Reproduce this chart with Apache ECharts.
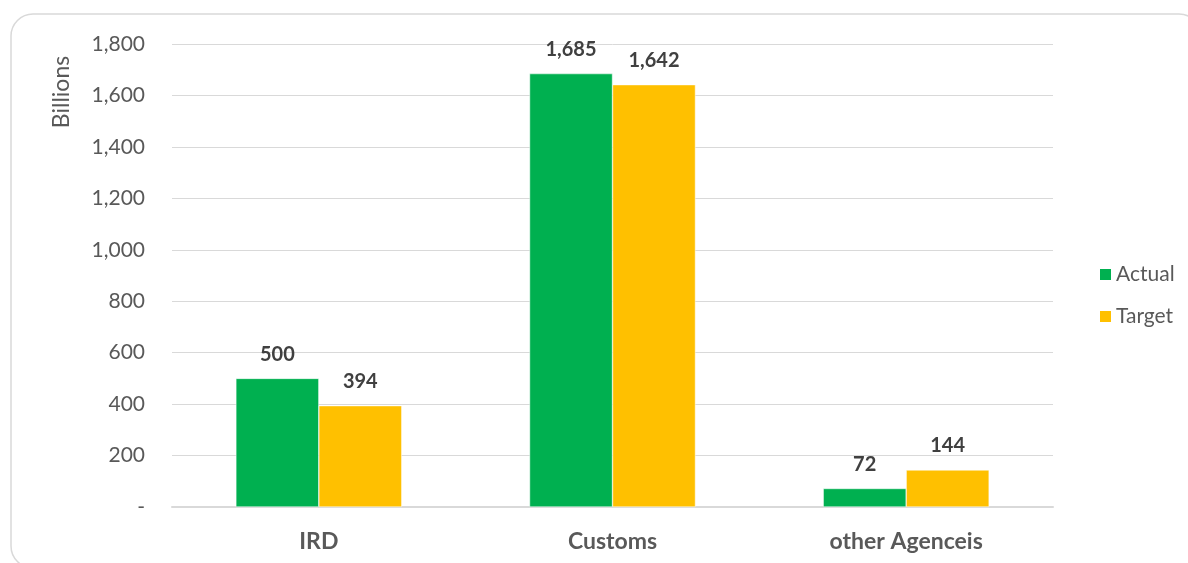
<!DOCTYPE html>
<html>
<head>
<meta charset="utf-8">
<script src="https://cdn.jsdelivr.net/npm/echarts@6/dist/echarts.min.js"></script>
<style>html,body{margin:0;padding:0;background:#fff}#c{width:1188px;height:563px}</style>
</head>
<body>
<div id="c"></div>
<script>
const categories = ['IRD', 'Customs', 'other Agenceis'];
const actual = [500, 1685, 72];
const target = [394, 1642, 144];
const yTicks = {min: 0, max: 1800, interval: 200};
const axisTitle = 'Billions';

const FONT = 'Lato, "Open Sans", sans-serif';
const chart = echarts.init(document.getElementById('c'));
const labelCfg = {
  show: true, position: 'top', distance: 14,
  fontFamily: FONT, fontSize: 20, fontWeight: 'bold', color: '#404040',
  formatter: p => p.value.toLocaleString('en-US')
};
chart.setOption({
  animation: false,
  backgroundColor: '#fff',
  graphic: [
    {type: 'rect', shape: {x: 11, y: 14, width: 1190, height: 554, r: 22},
     style: {fill: 'none', stroke: '#d9d9d9', lineWidth: 1.5}, z: -1},
    {type: 'text', x: 62, y: 92, rotation: Math.PI / 2, originX: 0, originY: 0,
     style: {text: axisTitle, font: '23px ' + FONT, fill: '#595959', align: 'center', verticalAlign: 'middle'}}
  ],
  grid: {left: 172, right: 135, top: 44, bottom: 56, containLabel: false},
  legend: {
    orient: 'vertical', left: 1093, top: 259, itemWidth: 13, itemHeight: 13, itemGap: 21,
    icon: 'rect',
    textStyle: {fontFamily: FONT, fontSize: 21, color: '#595959', padding: [0, 0, 0, -1]},
    data: ['Actual', 'Target']
  },
  xAxis: {
    type: 'category', data: categories,
    axisLine: {lineStyle: {color: '#d9d9d9', width: 2}},
    axisTick: {show: false},
    axisLabel: {fontFamily: FONT, fontSize: 23, fontWeight: 'bold', color: '#595959', margin: 23}
  },
  yAxis: {
    type: 'value', min: yTicks.min, max: yTicks.max, interval: yTicks.interval,
    axisLine: {show: false}, axisTick: {show: false},
    splitLine: {lineStyle: {color: '#d9d9d9', width: 1}},
    axisLabel: {fontFamily: FONT, fontSize: 21, color: '#595959', margin: 27,
      formatter: v => v === 0 ? '-' : v.toLocaleString('en-US')}
  },
  series: [
    {name: 'Actual', type: 'bar', data: actual, barGap: '0%', barCategoryGap: '43.5%',
     itemStyle: {color: '#00b050', borderColor: '#fff', borderWidth: 0.5}, label: labelCfg},
    {name: 'Target', type: 'bar', data: target,
     itemStyle: {color: '#ffc000', borderColor: '#fff', borderWidth: 0.5}, label: labelCfg}
  ]
});
</script>
</body>
</html>
